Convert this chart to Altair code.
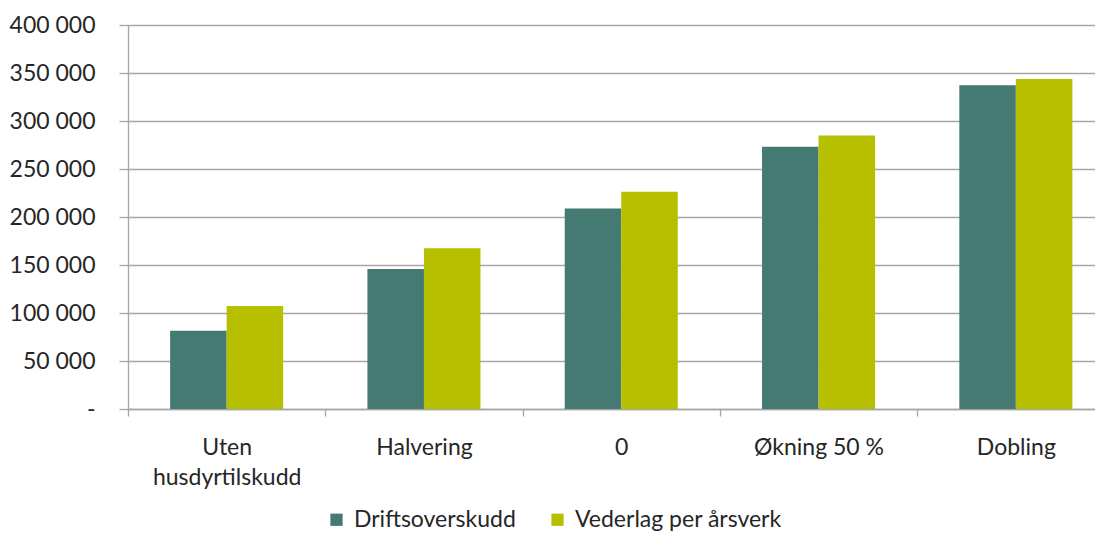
import altair as alt
import pandas as pd

categories = ["Uten husdyrtilskudd", "Halvering", "0", "Økning 50 %", "Dobling"]
series = ["Driftsoverskudd", "Vederlag per årsverk"]
driftsoverskudd = [81500, 145800, 208900, 273200, 337200]
vederlag = [107300, 167400, 226300, 285000, 343800]
colors = ["#457A72", "#B7C000"]
y_ticks = [0, 50000, 100000, 150000, 200000, 250000, 300000, 350000, 400000]

rows = []
for c, d, v in zip(categories, driftsoverskudd, vederlag):
    rows.append({"kategori": c, "serie": series[0], "verdi": d})
    rows.append({"kategori": c, "serie": series[1], "verdi": v})
df = pd.DataFrame(rows)

FONT = "Lato"
FS = 23
TXT = "#262626"
GRID = "#A6A6A6"
W, H = 967, 384
STEP = 197.3
NB = chr(160)

x_label_expr = "datum.value == 'Uten husdyrtilskudd' ? ['Uten', 'husdyrtilskudd'] : datum.value"
y_label_expr = ("datum.value == 0 ? '-" + NB + NB + "' : "
                "replace(format(datum.value, ','), ',', ' ')")

chart = alt.Chart(df).mark_bar().encode(
    x=alt.X(
        "kategori:N", sort=categories, title=None,
        scale=alt.Scale(range=[0, STEP * 5], paddingInner=0.427, paddingOuter=0.2135),
        axis=alt.Axis(
            labelAngle=0, tickOffset=-STEP / 2, labelOffset=STEP / 2,
            tickSize=7, labelPadding=20, labelExpr=x_label_expr,
            labelLineHeight=30, labelFontSize=FS, labelFont=FONT, labelColor=TXT,
            domainColor=GRID, domainWidth=1.3, tickColor=GRID, tickWidth=1.3,
            grid=False, labelBound=False, labelFlush=False,
        ),
    ),
    xOffset=alt.XOffset("serie:N", sort=series,
                        scale=alt.Scale(paddingInner=0, paddingOuter=0)),
    y=alt.Y(
        "verdi:Q", title=None,
        scale=alt.Scale(domain=[0, 400000], nice=False),
        axis=alt.Axis(
            values=y_ticks, tickSize=9, labelPadding=24, labelExpr=y_label_expr,
            labelFontSize=FS, labelFont=FONT, labelColor=TXT,
            gridColor=GRID, gridWidth=1.3, domainColor=GRID, domainWidth=1.3,
            tickColor=GRID, tickWidth=1.3,
        ),
    ),
    color=alt.Color(
        "serie:N", sort=series,
        scale=alt.Scale(domain=series, range=colors),
        legend=alt.Legend(
            title=None, orient="none", legendX=197, legendY=483,
            direction="horizontal", symbolType="square", symbolSize=150,
            symbolStrokeWidth=0, labelFontSize=FS, labelFont=FONT,
            labelColor=TXT, labelOffset=6, columnPadding=30, labelLimit=400,
        ),
    ),
).properties(
    width=W, height=H,
    autosize=alt.AutoSizeParams(type="none"),
    padding={"left": 120, "top": 17, "right": 0, "bottom": 126},
).configure_view(stroke=None)

chart.save("out.html", embed_options={"renderer": "svg", "actions": False})
